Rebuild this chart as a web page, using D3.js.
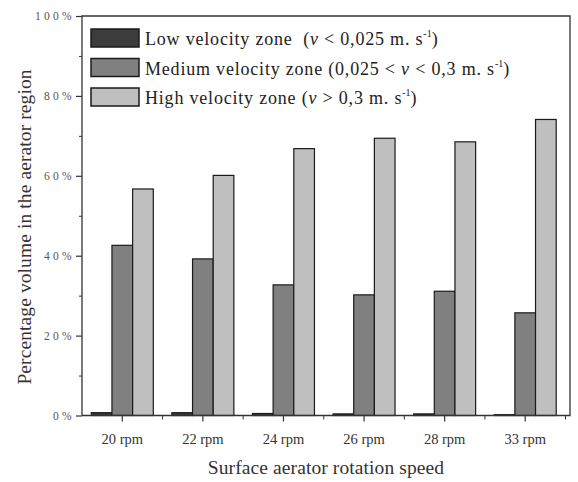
<!DOCTYPE html>
<html><head><meta charset="utf-8">
<script src="https://cdn.jsdelivr.net/npm/d3@7"></script>
<style>body{margin:0;background:#fff}svg{display:block}text{font-family:"Liberation Serif","Times New Roman",serif;white-space:pre}</style>
</head><body><svg id="c" width="578" height="482"></svg>
<script>
const categories = ["20 rpm","22 rpm","24 rpm","26 rpm","28 rpm","33 rpm"];
const seriesNames = ["low","medium","high"];
const lowValues = [0.7, 0.7, 0.5, 0.4, 0.4, 0.2];
const mediumValues = [42.6, 39.2, 32.7, 30.2, 31.1, 25.7];
const highValues = [56.7, 60.1, 66.8, 69.4, 68.5, 74.1];
const yTicks = [0, 20, 40, 60, 80, 100];
const yMinorTicks = [10, 30, 50, 70, 90];
const colors = {low:"#3c3c3c", medium:"#808080", high:"#bfbfbf"};
const legendItems = [
  {key:"low", parts:[["Low velocity zone  (",""],["v","i"],[" < 0,025 m. s",""],["-1","sup"],[")",""]]},
  {key:"medium", parts:[["Medium velocity zone (0,025 < ",""],["v","i"],[" < 0,3 m. s",""],["-1","sup"],[")",""]]},
  {key:"high", parts:[["High velocity zone (",""],["v","i"],[" > 0,3 m. s",""],["-1","sup"],[")",""]]}
];

const svg = d3.select("#c");
const L = 82, R = 565.5, FR = 570, T = 16, B = 415.5;
const x = d3.scaleBand().domain(categories).range([L, R]).padding(0);
const inner = d3.scaleBand().domain(seriesNames).range([-31, 31]).padding(0);
const y = d3.scaleLinear().domain([0, 100]).range([B, T]);
const data = {low: lowValues, medium: mediumValues, high: highValues};

// bars
seriesNames.forEach(s => {
  svg.append("g").selectAll("rect").data(categories).join("rect")
    .attr("x", (c) => x(c) + x.bandwidth()/2 + inner(s))
    .attr("width", inner.bandwidth())
    .attr("y", (c,i) => y(data[s][i]))
    .attr("height", (c,i) => B - y(data[s][i]))
    .attr("fill", colors[s])
    .attr("stroke", "#1a1a1a").attr("stroke-width", 1.2);
});

// frame
const axCol = "#333";
svg.append("path").attr("d", `M${L},${B}V${T}H${FR}V${B}H${L}`)
  .attr("fill","none").attr("stroke",axCol).attr("stroke-width",1.3);

// y axis
const yAx = svg.append("g").attr("transform", `translate(${L},0)`)
  .call(d3.axisLeft(y).tickValues(yTicks).tickSize(6).tickPadding(1).tickFormat(d => d + "%"));
yAx.select(".domain").remove();
yAx.selectAll("line").attr("stroke", axCol).attr("stroke-width",1.2);
yAx.selectAll("text").attr("font-size", 11.5).attr("fill","#555").attr("letter-spacing", 3.3)
  .attr("font-family",'"Liberation Serif",serif');
const yMin = svg.append("g").attr("transform", `translate(${L},0)`)
  .call(d3.axisLeft(y).tickValues(yMinorTicks).tickSize(3).tickFormat(""));
yMin.select(".domain").remove();
yMin.selectAll("line").attr("stroke", axCol);

// x axis
const xAx = svg.append("g").attr("transform", `translate(0,${B})`)
  .call(d3.axisBottom(x).tickSize(6).tickPadding(12));
xAx.select(".domain").remove();
xAx.selectAll("line").attr("stroke", axCol).attr("stroke-width",1.2);
xAx.selectAll("text").attr("font-size", 14.5).attr("fill","#333")
  .attr("font-family",'"Liberation Serif",serif');
const bounds = categories.map(c => x(c) + x.bandwidth());
svg.append("g").selectAll("line").data(bounds).join("line")
  .attr("x1", d=>d).attr("x2", d=>d).attr("y1", B).attr("y2", B+4)
  .attr("stroke", axCol);

// axis titles
svg.append("text").attr("x", 326).attr("y", 474).attr("text-anchor","middle")
  .attr("font-size", 19.5).attr("letter-spacing", 0.1).attr("fill","#333").text("Surface aerator rotation speed");
svg.append("text").attr("transform", `translate(31,227) rotate(-90)`)
  .attr("text-anchor","middle").attr("font-size", 19.5).attr("letter-spacing", 0.1).attr("fill","#333")
  .text("Percentage volume in the aerator region");

// legend
const lg = svg.append("g");
const lgY = [38, 67.5, 97];
legendItems.forEach((it, i) => {
  const cy = lgY[i];
  lg.append("rect").attr("x", 91).attr("y", cy-9).attr("width", 48).attr("height", 18)
    .attr("fill", colors[it.key]).attr("stroke","#1a1a1a").attr("stroke-width",1.5);
  const t = lg.append("text").attr("x", 145).attr("y", cy+7).attr("font-size", 18)
    .attr("letter-spacing", 0.8).attr("fill","#222");
  it.parts.forEach(([txt, st]) => {
    const ts = t.append("tspan").text(txt);
    if (st === "i") ts.attr("font-style","italic");
    if (st === "sup") ts.attr("font-size", 10).attr("dy", -8).attr("letter-spacing", 0);
    if (st === "" && txt === ")") ts.attr("dy", 8);
  });
});
</script></body></html>
